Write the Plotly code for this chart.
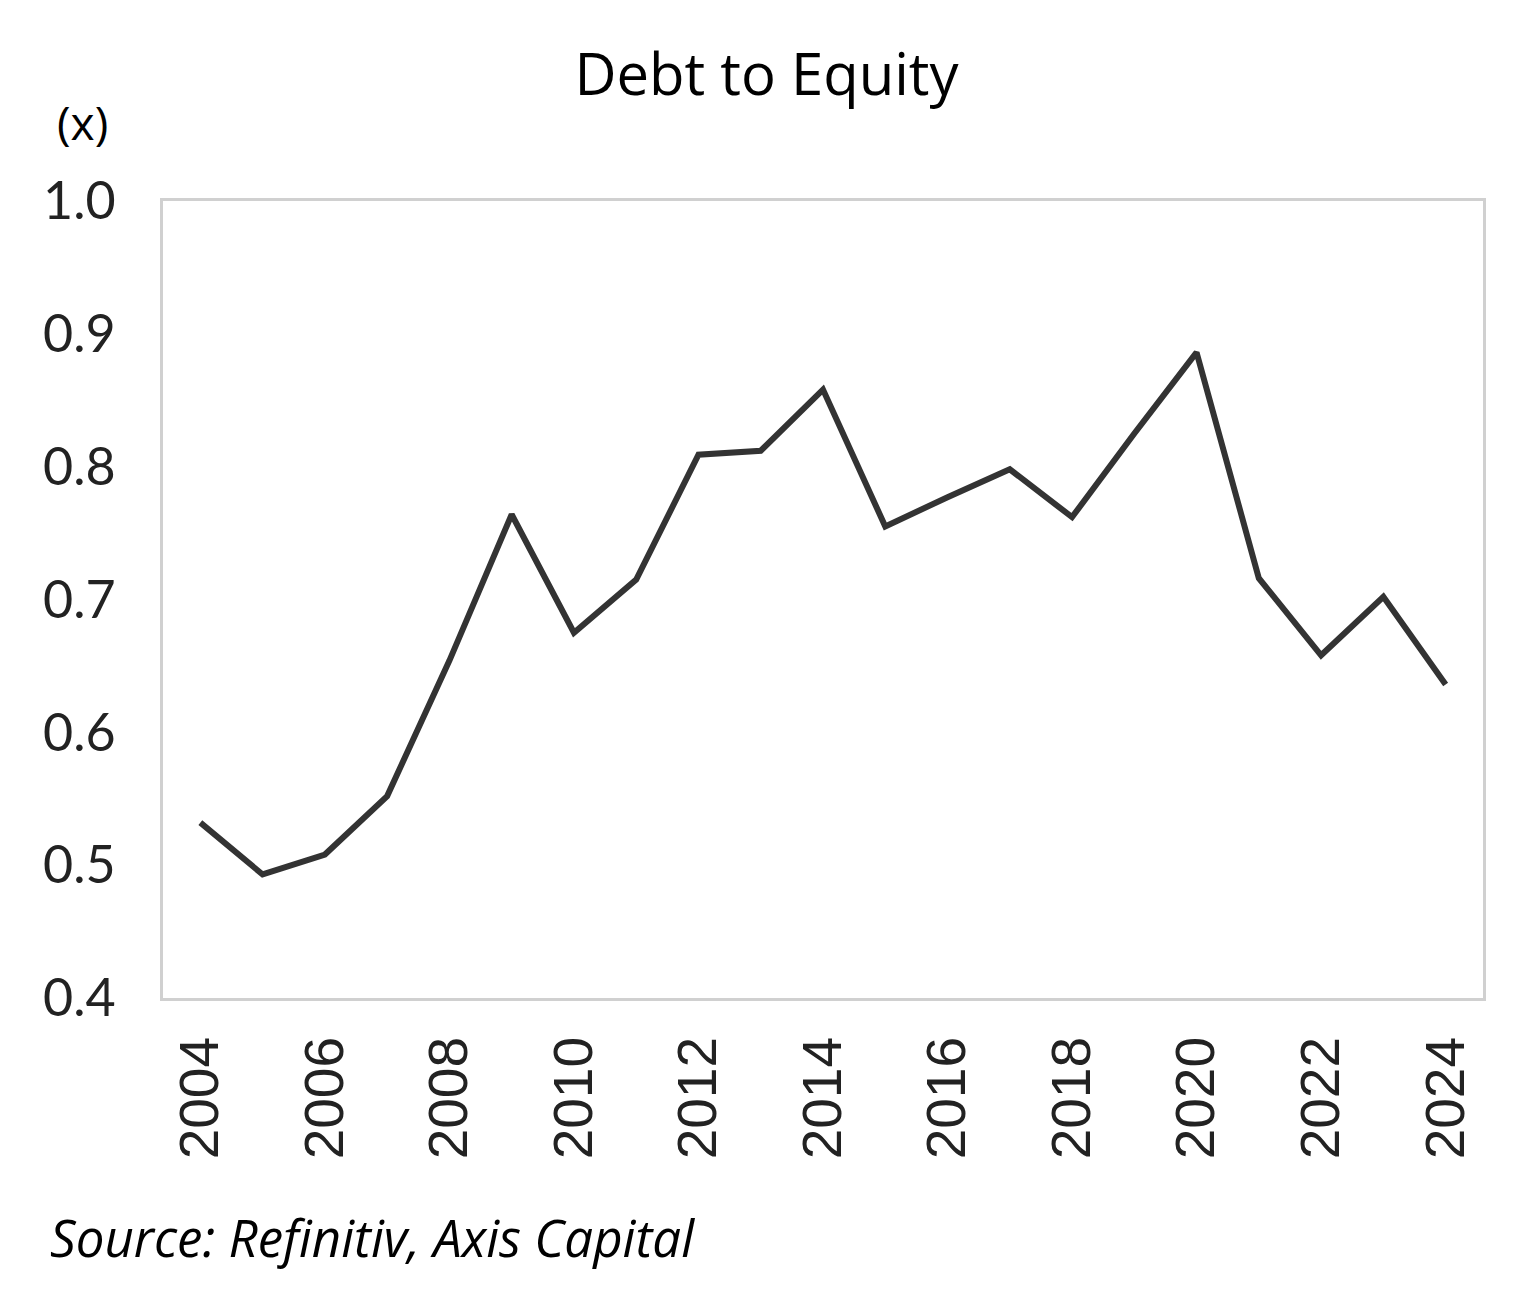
import plotly.graph_objects as go

years = list(range(2004, 2025))
debt_to_equity = [
    0.532, 0.493, 0.508, 0.552, 0.654, 0.764, 0.675, 0.715, 0.809, 0.812, 0.858,
    0.755, 0.777, 0.798, 0.762, 0.825, 0.886, 0.716, 0.658, 0.702, 0.636,
]
tick_years = years[::2]
y_ticks = [0.4, 0.5, 0.6, 0.7, 0.8, 0.9, 1.0]

fig = go.Figure()
fig.add_trace(
    go.Scatter(
        x=years,
        y=debt_to_equity,
        mode="lines",
        line=dict(color="#333333", width=6),
        showlegend=False,
    )
)

fig.update_layout(
    width=1517,
    height=1289,
    margin=dict(l=155, r=42, t=193, b=299),
    paper_bgcolor="white",
    plot_bgcolor="white",
    title=dict(
        text="Debt to Equity",
        x=0.5,
        xanchor="center",
        y=0.948,
        yanchor="middle",
        font=dict(family="Open Sans", size=58, color="black"),
    ),
)

fig.update_xaxes(
    range=[2003.4, 2024.6],
    tickvals=tick_years,
    ticktext=[str(y) for y in tick_years],
    tickangle=-90,
    tickfont=dict(family="Liberation Sans", size=55, color="#222222"),
    showgrid=False,
    zeroline=False,
    showline=True,
    linecolor="#d0d0d0",
    linewidth=3,
    mirror=True,
    ticks="",
    ticklabelstandoff=14,
)
fig.update_yaxes(
    range=[0.4, 1.0],
    tickvals=y_ticks,
    ticktext=[f"{v:.1f}" for v in y_ticks],
    tickfont=dict(family="Lato", size=52, color="#222222"),
    showgrid=False,
    zeroline=False,
    showline=True,
    linecolor="#d0d0d0",
    linewidth=3,
    mirror=True,
    ticks="",
    ticklabelstandoff=34,
)

fig.add_annotation(
    text="(x)",
    xref="paper",
    yref="paper",
    x=-0.061,
    y=1.099,
    xanchor="center",
    yanchor="middle",
    showarrow=False,
    font=dict(family="Open Sans", size=46, color="black"),
)
fig.add_annotation(
    text="<i>Source: Refinitiv, Axis Capital</i>",
    xref="paper",
    yref="paper",
    x=-0.087,
    y=-0.300,
    xanchor="left",
    yanchor="middle",
    showarrow=False,
    font=dict(family="Open Sans", size=51, color="black"),
)

fig.write_html("out.html")
